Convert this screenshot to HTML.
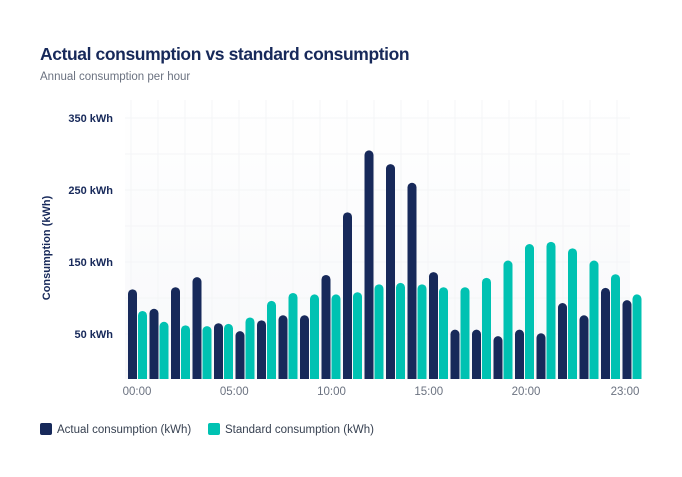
<!DOCTYPE html>
<html><head><meta charset="utf-8"><style>
body{margin:0;background:#fff;font-family:"Liberation Sans",sans-serif;}
#wrap{position:relative;width:682px;height:477px;overflow:hidden;}
</style></head><body>
<div id="wrap">
<svg id="svg" width="682" height="477" xmlns="http://www.w3.org/2000/svg">
<defs>
<linearGradient id="bg" x1="0" y1="0" x2="0" y2="1"><stop offset="0" stop-color="#ffffff"/><stop offset="1" stop-color="#f7f8fa"/></linearGradient>
</defs>
<text x="40" y="60" font-size="17.5" font-weight="bold" fill="#17295a" letter-spacing="-0.4">Actual consumption vs standard consumption</text>
<text x="40" y="80" font-size="11.5" fill="#6b7280">Annual consumption per hour</text>
<rect x="125" y="100" width="505" height="279" fill="url(#bg)"/>
<g id="grid"></g>
<g id="yaxis"></g>
<text transform="translate(50,248) rotate(-90)" text-anchor="middle" font-size="11" font-weight="bold" fill="#17295a">Consumption (kWh)</text>
<g id="bars"></g>
<g id="xaxis"></g>
<g>
<rect x="40" y="423" width="12" height="12" rx="2" fill="#17295a"/>
<text x="57" y="433" font-size="11.5" fill="#374151">Actual consumption (kWh)</text>
<rect x="208" y="423" width="12" height="12" rx="2" fill="#00c2b2"/>
<text x="225" y="433" font-size="11.5" fill="#374151">Standard consumption (kWh)</text>
</g>
</svg>
</div>
<script>
const hours=["00:00","01:00","02:00","03:00","04:00","05:00","06:00","07:00","08:00","09:00","10:00","11:00","12:00","13:00","14:00","15:00","16:00","17:00","18:00","19:00","20:00","21:00","22:00","23:00"];
const actual=[112,85,115,129,65,54,69,76,76,132,219,305,286,260,136,56,56,47,56,51,93,76,114,97];
const standard=[82,67,62,61,64,73,96,107,105,105,108,119,121,119,115,115,128,152,175,178,169,152,133,105];
const yTicks=[50,150,250,350];
const yTickLabels=["50 kWh","150 kWh","250 kWh","350 kWh"];
const xTickIdx=[0,5,10,15,20,23];
const NS="http://www.w3.org/2000/svg";
const base=379;
function y(v){return 334-(v-50)*0.72;}
function gx(i){return 128+i*21.5;}
function tx(i){return i===23?625:137+i*19.45;}
const bw=9;
function mk(tag,at,parent){const e=document.createElementNS(NS,tag);for(const k in at)e.setAttribute(k,at[k]);parent.appendChild(e);return e;}
const grid=document.getElementById('grid');
for(let k=0;k<19;k++){const l=mk('line',{x1:131+k*27,x2:131+k*27,y1:100,y2:379,stroke:'#f4f5f7','stroke-width':1},grid);

}
for(let k=0;k<8;k++){const l=mk('line',{x1:125,x2:630,y1:118+k*36,y2:118+k*36,stroke:'#f4f5f7','stroke-width':1},grid);

}
const ya=document.getElementById('yaxis');
yTicks.forEach((v,i)=>{const t=mk('text',{x:113,y:y(v)+4,'text-anchor':'end','font-size':11,'font-weight':'bold',fill:'#17295a'},ya);t.textContent=yTickLabels[i];

});
const bars=document.getElementById('bars');
function bar(x,v,color,name){const top=y(v);
const p=mk('path',{d:`M${x},${base} L${x},${top+4.5} A4.5,4.5 0 0 1 ${x+bw},${top+4.5} L${x+bw},${base} Z`,fill:color},bars);

}
hours.forEach((h,i)=>{bar(gx(i),actual[i],'#17295a','bar-actual-'+i);bar(gx(i)+10,standard[i],'#00c2b2','bar-standard-'+i);});
const xa=document.getElementById('xaxis');
xTickIdx.forEach(i=>{const t=mk('text',{x:tx(i),y:395,'text-anchor':'middle','font-size':11.5,fill:'#6b7280'},xa);t.textContent=hours[i];

});
</script>
</body></html>
